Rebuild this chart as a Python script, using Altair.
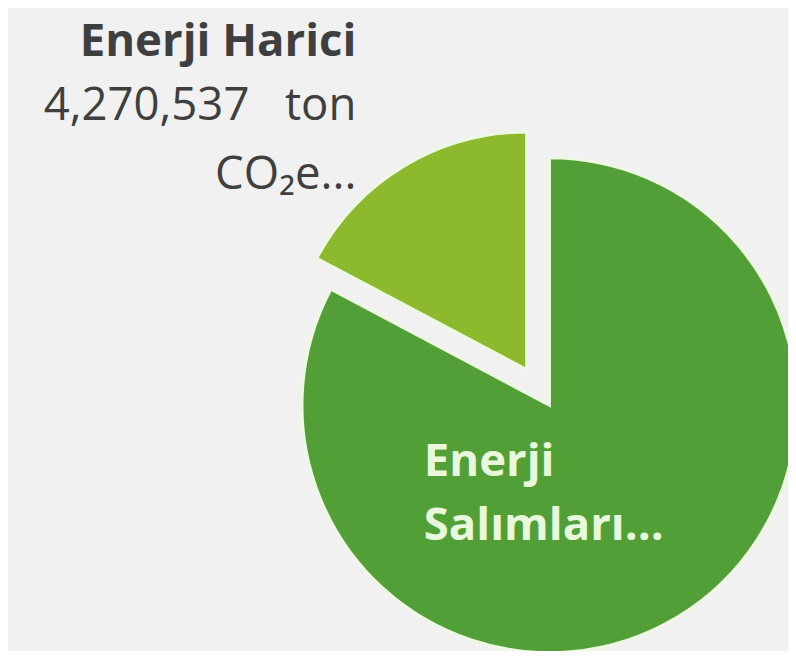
import altair as alt
import pandas as pd

categories = ["Enerji Salımları", "Enerji Harici"]
values = [20500000, 4270537]
colors = ["#529f37", "#8cb92e"]

outer_lines = ["Enerji Harici", "4,270,537\u00a0\u00a0\u00a0ton", "CO₂e..."]
inner_lines = ["Enerji", "Salımları..."]

df = pd.DataFrame({"category": categories, "value": values})

FONT = "Open Sans"

base = alt.Chart(df).transform_joinaggregate(
    total="sum(value)"
).transform_window(
    cum="sum(value)", frame=[None, 0]
).transform_calculate(
    t0="(datum.cum - datum.value) / datum.total",
    t1="datum.cum / datum.total",
)

theta_scale = alt.Scale(domain=[0, 1], range=[0, 6.283185307])
color_scale = alt.Scale(domain=categories, range=colors)

big = base.transform_filter(alt.datum.category == categories[0]).mark_arc(
    radius=250, stroke="#eef9e4", strokeWidth=3
).encode(
    theta=alt.Theta("t0:Q", scale=theta_scale),
    theta2="t1:Q",
    color=alt.Color("category:N", scale=color_scale, legend=None),
    x=alt.value(547),
    y=alt.value(398),
)

small = base.transform_filter(alt.datum.category == categories[1]).mark_arc(
    radius=240, stroke="#eef9e4", strokeWidth=3
).encode(
    theta=alt.Theta("t0:Q", scale=theta_scale),
    theta2="t1:Q",
    color=alt.Color("category:N", scale=color_scale, legend=None),
    x=alt.value(524),
    y=alt.value(362),
)

def txt(s, x, y, color, weight, align, size=46):
    return alt.Chart(pd.DataFrame({"t": [s]})).mark_text(
        font=FONT, fontSize=size, fontWeight=weight, color=color, align=align,
        baseline="alphabetic"
    ).encode(text="t:N", x=alt.value(x), y=alt.value(y))

labels = [
    txt(outer_lines[0], 352, 45, "#3f3f3f", "bold", "right"),
    txt(outer_lines[1], 352, 110, "#3f3f3f", "normal", "right"),
    txt(outer_lines[2], 352, 180, "#3f3f3f", "normal", "right"),
    txt(inner_lines[0], 420, 469, "#e8f8dc", "bold", "left"),
    txt(inner_lines[1], 420, 534, "#e8f8dc", "bold", "left"),
]

chart = alt.layer(big, small, *labels).properties(
    width=788, height=643,
    autosize=alt.AutoSizeParams(type="none"),
    padding=0,
    background="#f1f1f1",
).configure_view(stroke=None)

chart.save("out.html", embed_options={"renderer": "svg", "actions": False})
